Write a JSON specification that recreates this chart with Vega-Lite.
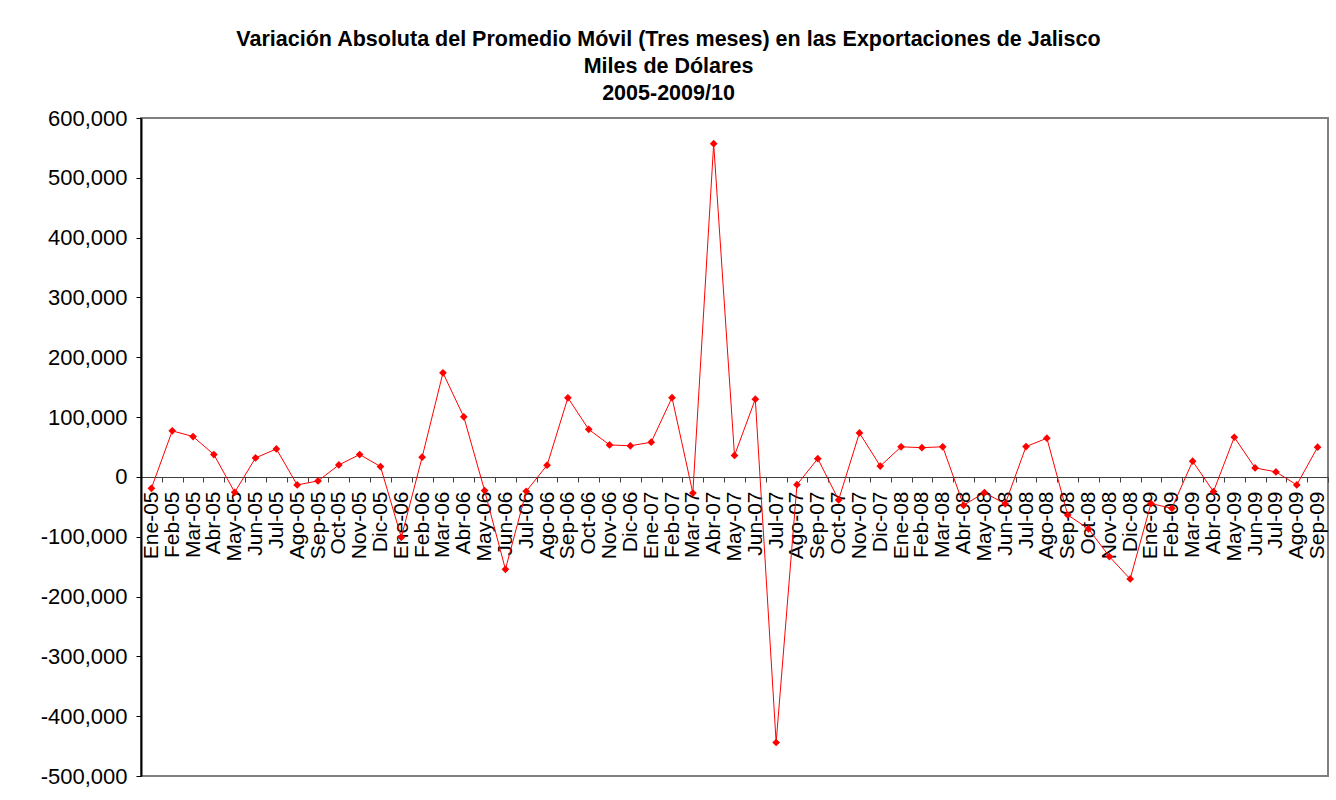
{
  "$schema": "https://vega.github.io/schema/vega-lite/v6.json",
  "autosize": {"type": "none"},
  "width": 1187,
  "height": 658,
  "padding": {"left": 141, "top": 118, "right": 8, "bottom": 24},
  "background": "white",
  "title": {
    "text": ["Variación Absoluta del Promedio Móvil (Tres meses) en las Exportaciones de Jalisco", "Miles de Dólares", "2005-2009/10"],
    "anchor": "middle",
    "frame": "group",
    "dx": -66,
    "offset": 3,
    "font": "Liberation Sans",
    "fontSize": 21.5,
    "fontWeight": "bold",
    "lineHeight": 27,
    "color": "black"
  },
  "config": {
    "view": {"stroke": "#808080", "strokeWidth": 2},
    "font": "Liberation Sans"
  },
  "data": {
    "values": [
      {"mes": "Ene-05", "valor": -19000},
      {"mes": "Feb-05", "valor": 77000},
      {"mes": "Mar-05", "valor": 67500},
      {"mes": "Abr-05", "valor": 37400},
      {"mes": "May-05", "valor": -25700},
      {"mes": "Jun-05", "valor": 31800},
      {"mes": "Jul-05", "valor": 46800},
      {"mes": "Ago-05", "valor": -13400},
      {"mes": "Sep-05", "valor": -6700},
      {"mes": "Oct-05", "valor": 20000},
      {"mes": "Nov-05", "valor": 37400},
      {"mes": "Dic-05", "valor": 17300},
      {"mes": "Ene-06", "valor": -101000},
      {"mes": "Feb-06", "valor": 32900},
      {"mes": "Mar-06", "valor": 174000},
      {"mes": "Abr-06", "valor": 100400},
      {"mes": "May-06", "valor": -22900},
      {"mes": "Jun-06", "valor": -154500},
      {"mes": "Jul-06", "valor": -24000},
      {"mes": "Ago-06", "valor": 19500},
      {"mes": "Sep-06", "valor": 132300},
      {"mes": "Oct-06", "valor": 79500},
      {"mes": "Nov-06", "valor": 53500},
      {"mes": "Dic-06", "valor": 52000},
      {"mes": "Ene-07", "valor": 58000},
      {"mes": "Feb-07", "valor": 132500},
      {"mes": "Mar-07", "valor": -27000},
      {"mes": "Abr-07", "valor": 557000},
      {"mes": "May-07", "valor": 35800},
      {"mes": "Jun-07", "valor": 130000},
      {"mes": "Jul-07", "valor": -444000},
      {"mes": "Ago-07", "valor": -13000},
      {"mes": "Sep-07", "valor": 30500},
      {"mes": "Oct-07", "valor": -38500},
      {"mes": "Nov-07", "valor": 73500},
      {"mes": "Dic-07", "valor": 18200},
      {"mes": "Ene-08", "valor": 50300},
      {"mes": "Feb-08", "valor": 48900},
      {"mes": "Mar-08", "valor": 50400},
      {"mes": "Abr-08", "valor": -47400},
      {"mes": "May-08", "valor": -26200},
      {"mes": "Jun-08", "valor": -45100},
      {"mes": "Jul-08", "valor": 50700},
      {"mes": "Ago-08", "valor": 64700},
      {"mes": "Sep-08", "valor": -63500},
      {"mes": "Oct-08", "valor": -87000},
      {"mes": "Nov-08", "valor": -133200},
      {"mes": "Dic-08", "valor": -170600},
      {"mes": "Ene-09", "valor": -44600},
      {"mes": "Feb-09", "valor": -52400},
      {"mes": "Mar-09", "valor": 26200},
      {"mes": "Abr-09", "valor": -24500},
      {"mes": "May-09", "valor": 66300},
      {"mes": "Jun-09", "valor": 15000},
      {"mes": "Jul-09", "valor": 8400},
      {"mes": "Ago-09", "valor": -13400},
      {"mes": "Sep-09", "valor": 49600}
    ]
  },
  "encoding": {
    "x": {
      "field": "mes",
      "type": "ordinal",
      "sort": null,
      "scale": {"paddingInner": 0, "paddingOuter": 0},
      "axis": {
        "title": null,
        "offset": -299,
        "labelAngle": -90,
        "labelFontSize": 21,
        "labelColor": "black",
        "labelPadding": 9,
        "labelOverlap": false,
        "labelBound": false,
        "tickBand": "extent",
        "tickSize": 5,
        "tickColor": "#404040",
        "domainColor": "#404040",
        "domainWidth": 1,
        "grid": false,
        "zindex": 0
      }
    },
    "y": {
      "field": "valor",
      "type": "quantitative",
      "scale": {"domain": [-500000, 600000], "nice": false, "zero": false},
      "axis": {
        "title": null,
        "values": [-500000, -400000, -300000, -200000, -100000, 0, 100000, 200000, 300000, 400000, 500000, 600000],
        "labelExpr": "replace(format(datum.value, ','), '\u2212', '-')",
        "labelFontSize": 22,
        "labelColor": "black",
        "labelPadding": 9,
        "tickSize": 5,
        "tickColor": "black",
        "domainColor": "black",
        "domainWidth": 2,
        "grid": false
      }
    }
  },
  "layer": [
    {
      "mark": {"type": "line", "color": "#FF0000", "strokeWidth": 1}
    },
    {
      "mark": {"type": "point", "shape": "diamond", "filled": true, "color": "#FF0000", "size": 60, "opacity": 1}
    }
  ]
}
